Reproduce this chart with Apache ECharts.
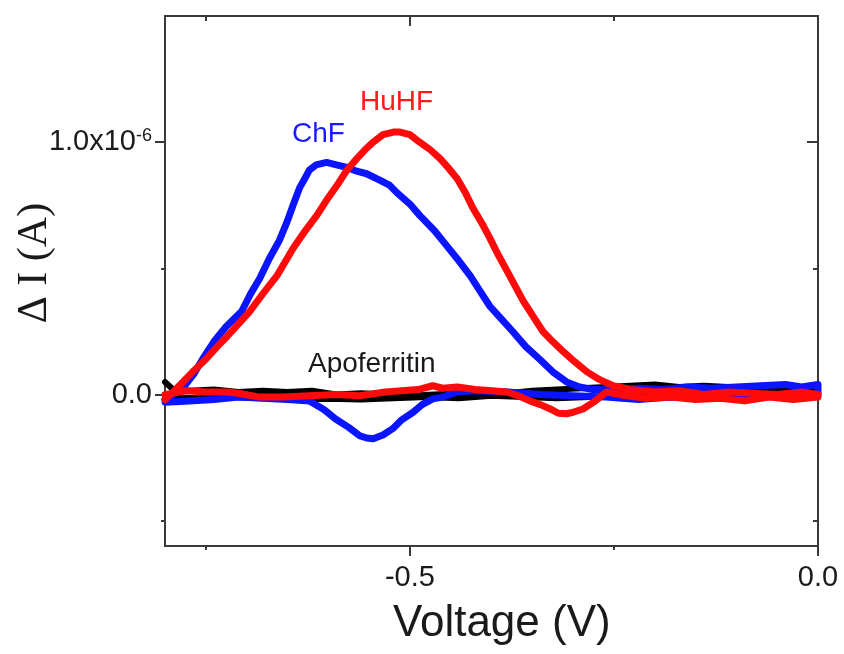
<!DOCTYPE html>
<html>
<head>
<meta charset="utf-8">
<script src="https://cdn.jsdelivr.net/npm/echarts@6/dist/echarts.min.js"></script>
<style>
html,body{margin:0;padding:0;background:#fff;}
#chart{width:844px;height:654px;}
</style>
</head>
<body>
<div id="chart"></div>
<script>
// Voltage (V) and current ΔI (in units of 1e-6 A).
// Each series is a closed sweep: forward (-0.8 -> 0) then return (0 -> -0.8).
var chfVoltage = [
  -0.800,-0.790,-0.776,-0.765,-0.754,-0.740,-0.725,-0.706,-0.695,-0.684,-0.672,-0.660,-0.651,-0.642,-0.635,-0.628,-0.623,-0.615,-0.602,-0.590,
  -0.577,-0.565,-0.553,-0.537,-0.525,-0.516,-0.500,-0.488,-0.470,-0.455,-0.440,-0.426,-0.414,-0.402,-0.388,-0.374,-0.358,-0.341,-0.325,-0.308,
  -0.292,-0.276,-0.250,-0.220,-0.190,-0.160,-0.130,-0.100,-0.070,-0.040,-0.020,0.000,
  0.000,-0.030,-0.060,-0.100,-0.140,-0.180,-0.220,-0.260,-0.300,-0.340,-0.380,-0.420,-0.442,-0.460,-0.472,-0.485,-0.496,-0.510,-0.521,-0.533,
  -0.545,-0.553,-0.561,-0.575,-0.591,-0.605,-0.623,-0.650,-0.680,-0.710,-0.740,-0.770,-0.800
];
var chfCurrent = [
  -0.02,0.00,0.035,0.08,0.14,0.21,0.27,0.33,0.40,0.46,0.54,0.61,0.68,0.76,0.82,0.86,0.89,0.91,0.92,0.91,
  0.90,0.885,0.875,0.85,0.83,0.80,0.755,0.71,0.65,0.59,0.53,0.47,0.41,0.35,0.30,0.25,0.19,0.14,0.09,0.05,
  0.03,0.02,0.02,0.025,0.02,0.03,0.025,0.03,0.035,0.04,0.03,0.04,
  0.00,-0.01,-0.005,-0.01,-0.015,-0.01,-0.02,-0.01,-0.005,0.00,0.01,0.015,0.01,-0.01,-0.017,-0.04,-0.07,-0.10,-0.135,-0.16,
  -0.175,-0.172,-0.164,-0.13,-0.097,-0.06,-0.025,-0.02,-0.015,-0.01,-0.02,-0.025,-0.03
];
var huhfVoltage = [
  -0.800,-0.790,-0.778,-0.766,-0.750,-0.736,-0.724,-0.710,-0.696,-0.680,-0.663,-0.643,-0.628,-0.614,-0.600,-0.589,-0.577,-0.565,-0.555,-0.545,
  -0.533,-0.520,-0.512,-0.500,-0.488,-0.475,-0.463,-0.452,-0.442,-0.432,-0.423,-0.412,-0.402,-0.392,-0.381,-0.371,-0.361,-0.349,-0.337,-0.325,
  -0.312,-0.298,-0.283,-0.268,-0.251,-0.230,-0.200,-0.170,-0.140,-0.110,-0.080,-0.050,-0.020,0.000,
  0.000,-0.030,-0.060,-0.090,-0.120,-0.150,-0.180,-0.210,-0.235,-0.259,-0.275,-0.288,-0.300,-0.308,-0.318,-0.328,-0.340,-0.353,-0.367,-0.381,
  -0.400,-0.420,-0.442,-0.460,-0.472,-0.490,-0.510,-0.530,-0.561,-0.590,-0.623,-0.655,-0.684,-0.710,-0.724,-0.750,-0.775,-0.800
];
var huhfCurrent = [
  -0.02,0.01,0.05,0.09,0.14,0.19,0.23,0.28,0.33,0.40,0.47,0.58,0.65,0.71,0.78,0.83,0.89,0.935,0.97,1.00,
  1.03,1.04,1.04,1.03,1.00,0.97,0.935,0.895,0.855,0.80,0.74,0.68,0.62,0.555,0.49,0.43,0.37,0.31,0.25,0.21,
  0.17,0.13,0.09,0.06,0.035,0.02,0.01,0.015,0.00,0.01,0.005,0.00,0.01,0.00,
  -0.01,-0.02,-0.01,-0.025,-0.015,-0.02,-0.01,-0.015,-0.005,0.01,-0.03,-0.057,-0.07,-0.076,-0.074,-0.057,-0.04,-0.025,-0.005,0.01,
  0.015,0.02,0.03,0.025,0.035,0.02,0.015,0.01,-0.005,0.00,-0.005,-0.01,-0.01,0.005,0.01,0.01,0.015,0.00
];
var apoVoltage = [
  -0.800,-0.790,-0.770,-0.740,-0.710,-0.680,-0.650,-0.620,-0.590,-0.560,-0.530,-0.500,-0.470,-0.440,-0.410,-0.380,-0.350,-0.320,-0.290,-0.260,
  -0.230,-0.200,-0.170,-0.140,-0.110,-0.080,-0.050,-0.020,0.000,
  0.000,-0.040,-0.080,-0.120,-0.160,-0.200,-0.240,-0.280,-0.320,-0.360,-0.400,-0.440,-0.480,-0.520,-0.560,-0.600,-0.640,-0.680,-0.720,-0.760,-0.800
];
var apoCurrent = [
  0.05,0.02,0.015,0.02,0.01,0.015,0.01,0.015,0.00,0.005,0.00,-0.005,0.00,0.005,0.01,0.005,0.015,0.02,0.025,0.03,
  0.035,0.04,0.03,0.035,0.03,0.025,0.02,0.02,0.02,
  0.00,-0.005,0.00,-0.01,-0.005,-0.01,-0.005,-0.01,-0.015,-0.01,-0.005,-0.015,-0.01,-0.015,-0.02,-0.017,-0.02,-0.015,-0.01,-0.015,-0.01
];
var xMajorTicks = [-0.5, 0.0];
var xMinorTicks = [-0.75, -0.25];
var yMajorTicks = [0.0, 1.0];
var yMinorTicks = [-0.5, 0.5];

function pairs(xs, ys){ var out=[]; for (var i=0;i<xs.length;i++) out.push([xs[i], ys[i]]); return out; }

var FRAME = '#3a3a3a';
var SANS = '"Liberation Sans", Arial, sans-serif';
var XMIN = -0.8, XMAX = 0.0, YMIN = -0.6, YMAX = 1.5;

function xAx(pos, ticks, len, inside, labels){
  return {
    type:'value', min:XMIN, max:XMAX, position:pos, splitLine:{show:false},
    axisLine:{show:true, onZero:false, lineStyle:{color:FRAME, width:2}},
    axisTick:{show:true, inside:inside, length:len, customValues:ticks, lineStyle:{color:FRAME, width:2}},
    axisLabel:labels ? {show:true, customValues:xMajorTicks, margin:17, color:'#1a1a1a', fontSize:29, fontFamily:SANS,
      formatter:function(v){ return v.toFixed(1); }} : {show:false}
  };
}
function yAx(pos, ticks, len, inside, labels){
  return {
    type:'value', min:YMIN, max:YMAX, position:pos, splitLine:{show:false},
    axisLine:{show:true, onZero:false, lineStyle:{color:FRAME, width:2}},
    axisTick:{show:true, inside:inside, length:len, customValues:ticks, lineStyle:{color:FRAME, width:2}},
    axisLabel:labels ? {show:true, customValues:yMajorTicks, margin:13, color:'#1a1a1a', fontSize:29, fontFamily:SANS,
      formatter:function(v){ return v === 0 ? '{a|0.0}' : '{a|1.0x10}{b|-6}'; },
      rich:{a:{fontSize:29, fontFamily:SANS, color:'#1a1a1a'}, b:{fontSize:18, fontFamily:SANS, color:'#1a1a1a', verticalAlign:'top', padding:[0,0,12,0]}}
    } : {show:false}
  };
}

var chart = echarts.init(document.getElementById('chart'), null, {renderer:'canvas'});
chart.setOption({
  animation:false,
  backgroundColor:'#ffffff',
  grid:{left:165, right:26, top:16, bottom:108, containLabel:false},
  xAxis:[
    xAx('bottom', xMajorTicks, 10, false, true),
    xAx('bottom', xMinorTicks, 4, false, false),
    xAx('top', xMajorTicks, 10, true, false),
    xAx('top', xMinorTicks, 5, true, false)
  ],
  yAxis:[
    yAx('left', yMajorTicks, 10, false, true),
    yAx('left', yMinorTicks, 4, false, false),
    yAx('right', yMajorTicks, 11, true, false),
    yAx('right', yMinorTicks, 5, true, false)
  ],
  series:[
    {name:'Apoferritin', type:'line', xAxisIndex:0, yAxisIndex:0, data:pairs(apoVoltage, apoCurrent),
     showSymbol:false, lineStyle:{color:'#000000', width:6, join:'round', cap:'round'}, z:2},
    {name:'ChF', type:'line', xAxisIndex:0, yAxisIndex:0, data:pairs(chfVoltage, chfCurrent),
     showSymbol:false, lineStyle:{color:'#0a14ff', width:7, join:'round', cap:'round'}, z:3},
    {name:'HuHF', type:'line', xAxisIndex:0, yAxisIndex:0, data:pairs(huhfVoltage, huhfCurrent),
     showSymbol:false, lineStyle:{color:'#ff0a0a', width:7, join:'round', cap:'round'}, z:4}
  ],
  graphic:[
    {type:'text', left:292, top:120, style:{text:'ChF', fill:'#1a1aff', font:'28px '+SANS}},
    {type:'text', left:360, top:88, style:{text:'HuHF', fill:'#ff1a1a', font:'28px '+SANS}},
    {type:'text', left:308, top:350, style:{text:'Apoferritin', fill:'#1a1a1a', font:'28px '+SANS}},
    {type:'text', left:393, top:602, style:{text:'Voltage (V)', fill:'#1a1a1a', font:'44px '+SANS}},
    {type:'text', x:35, y:263, rotation:Math.PI/2,
     style:{text:'Δ I (A)', fill:'#1a1a1a', font:'42px "Liberation Serif", "Times New Roman", serif', align:'center', verticalAlign:'middle'}}
  ]
});
</script>
</body>
</html>
